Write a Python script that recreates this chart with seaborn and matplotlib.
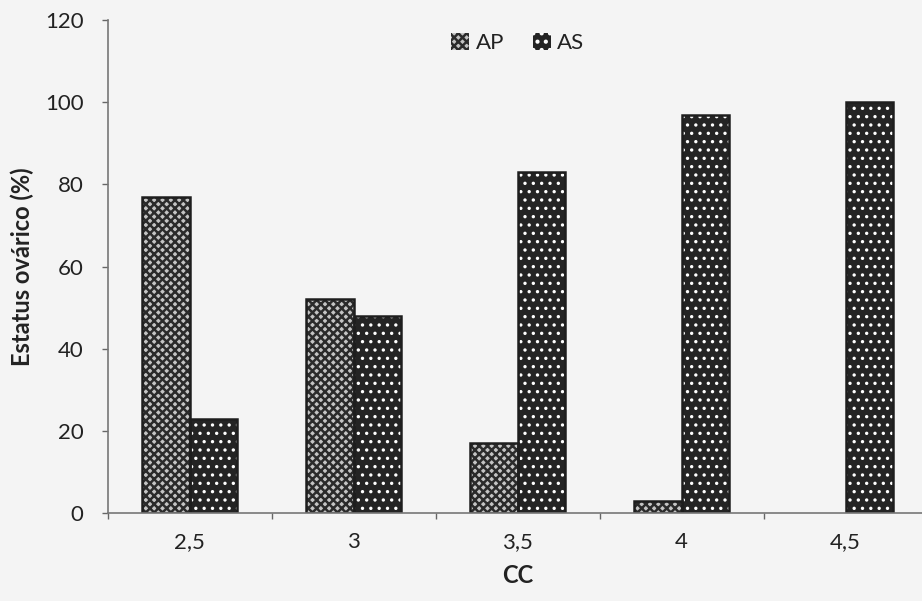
import matplotlib
matplotlib.use("Agg")
import matplotlib.pyplot as plt
import seaborn as sns
import pandas as pd
import numpy as np
from matplotlib.patches import Rectangle

categories = ["2,5", "3", "3,5", "4", "4,5"]
ap_values = [77, 52, 17, 3, 0]
as_values = [23, 48, 83, 97, 100]
series_names = ["AP", "AS"]

df = pd.DataFrame({
    "CC": categories * 2,
    "serie": [series_names[0]] * len(categories) + [series_names[1]] * len(categories),
    "valor": ap_values + as_values,
})

sns.set_theme(style="white")
plt.rcParams["font.family"] = ["Lato", "DejaVu Sans"]
plt.rcParams["hatch.linewidth"] = 1.8

bg = "#f4f4f4"
fig = plt.figure(figsize=(9.22, 6.01), dpi=100, facecolor=bg)
ax = fig.add_axes([0.117, 0.1464, 0.889, 0.8203])
ax.set_facecolor(bg)

sns.barplot(data=df, x="CC", y="valor", hue="serie", order=categories,
            hue_order=series_names, palette=["#c8c8c8", "#262626"],
            width=0.58, gap=0, saturation=1, ax=ax, legend=False,
            edgecolor="#222222", linewidth=1.5)

n = len(categories)
patches = list(ax.patches)
# face colour, hatch colour, hatch, hatch linewidth
styles = {0: ("#c4c4c4", "#2b2b2b", "xxxx", 1.8), 1: ("#242424", "#ffffff", "..", 1.2)}


def apply_hatch_lw(patch, lw):
    if hasattr(patch, "set_hatch_linewidth"):
        patch.set_hatch_linewidth(lw)
    else:
        patch._hatch_linewidth = lw


for i, p in enumerate(patches[:2 * n]):
    s = i // n
    face, hcol, hatch, hlw = styles[s]
    p.set_facecolor(face)
    p.set_edgecolor(hcol)
    p.set_hatch(hatch)
    apply_hatch_lw(p, hlw)
    p.set_linewidth(0)
    if p.get_height() > 0:
        outline = Rectangle((p.get_x(), p.get_y()), p.get_width(), p.get_height(),
                            fill=False, edgecolor="#1e1e1e", linewidth=1.8, zorder=p.get_zorder() + 0.1)
        ax.add_patch(outline)

legend_handles = []
for s in range(2):
    face, hcol, hatch, hlw = styles[s]
    h = Rectangle((0, 0), 1, 1, facecolor=face, edgecolor=hcol, hatch=hatch, linewidth=0)
    apply_hatch_lw(h, hlw)
    legend_handles.append(h)

leg = ax.legend(legend_handles, series_names, loc="upper center", bbox_to_anchor=(0.5, 1.015),
                ncol=2, frameon=False, fontsize=16, handlelength=0.8, handleheight=0.8,
                handletextpad=0.3, columnspacing=1.3, labelcolor="#222222")

ax.set_ylim(0, 120)
ax.set_yticks(np.arange(0, 121, 20))
ax.set_xlim(-0.5, n - 0.5)
ax.set_xticks(range(n))
ax.set_xticklabels(categories)
ax.set_xticks(np.arange(-0.5, n, 1.0), minor=True)
ax.tick_params(axis="x", which="major", length=0, pad=14, labelsize=16, colors="#222222")
ax.tick_params(axis="x", which="minor", length=4.5, width=1, color="#666666", direction="out", bottom=True)
ax.tick_params(axis="y", which="major", length=4.5, width=1, color="#666666", direction="out",
               left=True, labelsize=16, labelcolor="#222222", pad=13)

for side in ["top", "right"]:
    ax.spines[side].set_visible(False)
for side in ["left", "bottom"]:
    ax.spines[side].set_color("#777777")
    ax.spines[side].set_linewidth(1.2)

ax.set_ylabel("Estatus ovárico (%)", fontsize=17, fontweight="bold", color="#222222", labelpad=8)
ax.set_xlabel("CC", fontsize=17, fontweight="bold", color="#222222", labelpad=8)

fig.savefig("out.png", dpi=100, facecolor=bg)
